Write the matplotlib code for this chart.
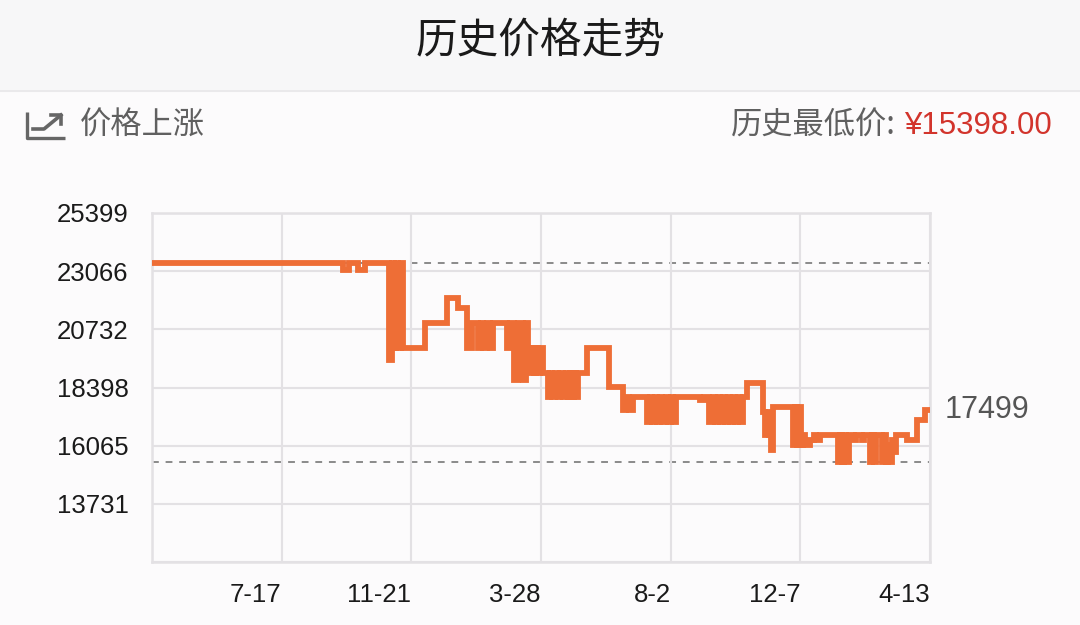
import numpy as np
import matplotlib
matplotlib.use("Agg")
import matplotlib.pyplot as plt

# price history, step changes (days after start date, price in yuan)
start = np.datetime64("2017-03-12")
days = [0, 187, 193, 202, 209, 232, 235, 237, 239, 241, 244, 246,
        267, 289, 300, 309, 313, 319, 322, 324, 328, 331, 334,
        348, 351, 355, 358, 363, 366,
        368, 370, 372, 374, 376, 378, 380, 383,
        388, 390, 392, 395, 398, 400, 403, 405, 407, 409, 411, 413, 415, 417,
        426, 448, 461, 464, 467, 471,
        485, 488, 490, 493, 495, 498, 500, 503, 505, 508, 510, 513,
        537, 541,
        546, 549, 551, 554, 556, 559, 561, 564, 566, 569, 571, 574, 576, 579,
        583, 598, 600, 602, 604, 606, 608,
        628, 630, 632, 634, 636, 638, 640, 644, 648, 650, 654,
        672, 674, 676, 678, 680, 683, 688, 690, 695, 697,
        703, 705, 707, 709, 711,
        715, 717, 719, 721, 723, 725, 727, 729,
        739, 749, 757, 760]
prices = [23399, 23099, 23399, 23099, 23399, 19499, 23399, 19999, 23399, 19999, 23399, 19999,
          20999, 21999, 21599, 19999, 20999, 19999, 20999, 19999, 20999, 19999, 20999,
          19999, 20999, 18699, 20999, 18699, 20999,
          19999, 18999, 19999, 18999, 19999, 18999, 19999, 18999,
          17999, 18999, 17999, 18999, 17999, 18999, 17999, 18999, 17999, 18999, 17999, 18999, 17999, 18999,
          19999, 18399, 17499, 17999, 17499, 17999,
          16999, 17999, 16999, 17999, 16999, 17999, 16999, 17999, 16999, 17999, 16999, 17999,
          17899, 17999,
          16999, 17999, 16999, 17999, 16999, 17999, 16999, 17999, 16999, 17999, 16999, 17999, 16999, 17999,
          18599, 17399, 16499, 17399, 16499, 15899, 17599,
          16099, 17599, 16099, 17599, 16099, 16499, 16099, 16299, 16499, 16299, 16499,
          15398, 16499, 15398, 16499, 15398, 16499, 16299, 16499, 16299, 16499,
          15398, 16499, 15398, 16499, 16499,
          15398, 16499, 15398, 16099, 15398, 16299, 15798, 16499,
          16299, 17099, 17499, 17499]

max_price = 23399
min_price = 15398
last_price = 17499

ytick_vals = [11398, 13731, 16065, 18398, 20732, 23066, 25399]
ytick_labels = ["", "13731", "16065", "18398", "20732", "23066", "25399"]
xtick_days = [0, 127, 254, 381, 508, 635, 762]
xtick_labels = ["", "7-17", "11-21", "3-28", "8-2", "12-7", "4-13"]

num_font = ["Liberation Sans", "Noto Sans CJK SC"]
cjk_font = ["Noto Sans CJK SC", "DejaVu Sans"]
orange = "#EE6E36"
grid_c = "#E3E1E4"

fig = plt.figure(figsize=(10.8, 6.25), dpi=100, facecolor="#FCFBFC")

# header / decorations in pixel coords
deco = fig.add_axes([0, 0, 1, 1])
deco.set_xlim(0, 1080)
deco.set_ylim(625, 0)
deco.axis("off")
deco.axhspan(0, 91, color="#F7F7F8", zorder=0)
deco.axhline(91, color="#E8E7E9", lw=1.2)
deco.text(540, 41, "历史价格走势", ha="center", va="center", fontsize=30,
          family=cjk_font, color="#1A1A1A")
# trend icon
deco.plot([27, 27, 65], [112, 138, 138], color="#666666", lw=2.4, solid_capstyle="butt")
deco.plot([33, 44, 61], [129, 129, 115], color="#666666", lw=2.6)
deco.plot([51, 61, 61], [115, 115, 124], color="#666666", lw=2.6)
deco.text(80, 126, "价格上涨", ha="left", va="center", fontsize=22.5,
          family=cjk_font, color="#606060")
t_red = deco.text(1052, 126, "¥%.2f" % min_price, ha="right", va="center", fontsize=22.5,
                  family=num_font, color="#D2342C")
fig.canvas.draw()
bb = t_red.get_window_extent()
deco.text(bb.x0 - 8, 126, "历史最低价:", ha="right", va="center",
          fontsize=22.5, family=cjk_font, color="#606060")

# chart
ax = fig.add_axes([152 / 1080, 1 - 562 / 625, 778 / 1080, 349 / 625])
ax.set_facecolor("#FCFBFC")
dates = start + np.array(days).astype("timedelta64[D]")
ax.axhline(max_price, color="#8A8A8A", lw=1.4, ls=(0, (3.5, 3.5)), zorder=1)
ax.axhline(min_price, color="#8A8A8A", lw=1.4, ls=(0, (3.5, 3.5)), zorder=1)
ax.step(dates, prices, where="post", color=orange, lw=4.2, zorder=3,
        solid_joinstyle="miter")

xt = start + np.array(xtick_days).astype("timedelta64[D]")
ax.set_xlim(xt[0], xt[-1])
ax.set_ylim(ytick_vals[0], ytick_vals[-1])
ax.set_xticks(xt)
ax.set_xticklabels(xtick_labels, family=num_font, fontsize=18.5, color="#1A1A1A", ha="right")
ax.set_yticks(ytick_vals)
ax.set_yticklabels(ytick_labels, family=num_font, fontsize=18.5, color="#1A1A1A")
ax.tick_params(axis="both", length=0)
ax.tick_params(axis="x", pad=15)
ax.tick_params(axis="y", pad=17)
ax.grid(True, color=grid_c, lw=1.5, zorder=0)
for s in ax.spines.values():
    s.set_color(grid_c)
    s.set_linewidth(1.8)

ax.annotate(str(last_price), xy=(dates[-1], last_price), xytext=(12, 0),
            textcoords="offset points", ha="left", va="center", fontsize=22,
            family=num_font, color="#555555", annotation_clip=False)

fig.savefig("out.png", dpi=100, facecolor=fig.get_facecolor())
